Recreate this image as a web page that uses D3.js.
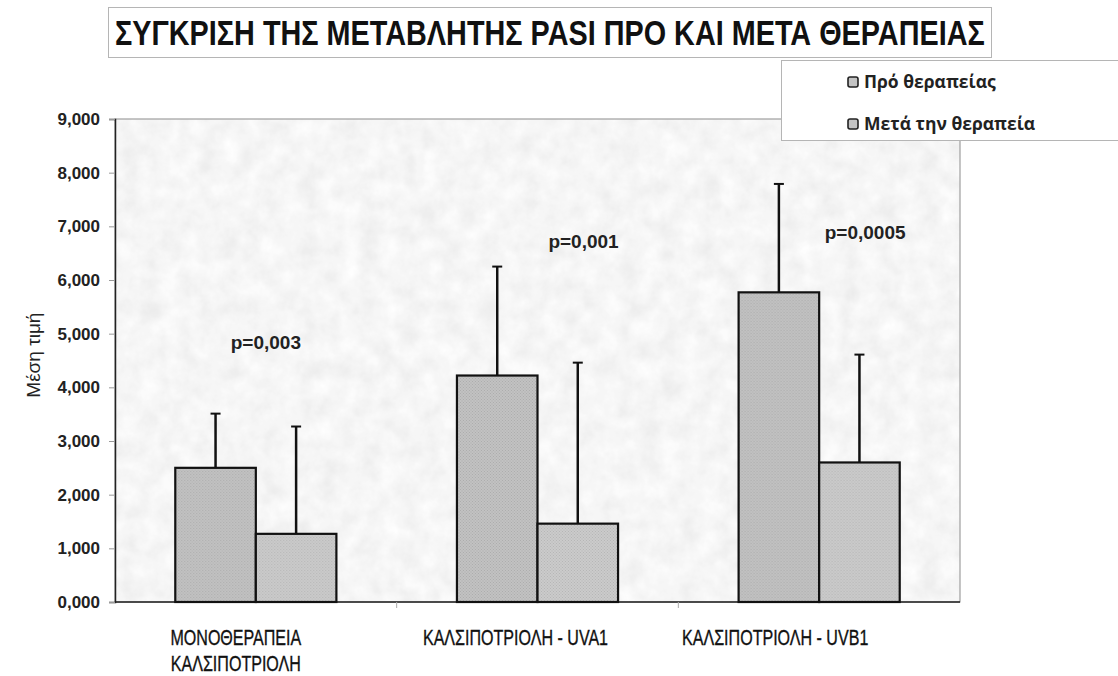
<!DOCTYPE html>
<html>
<head>
<meta charset="utf-8">
<script src="https://cdn.jsdelivr.net/npm/d3@7"></script>
<style>
  body { margin: 0; background: #fff; }
  svg { display: block; }
</style>
</head>
<body>
<div class="chart"></div>
<script>
// size of the page
let svg_width = 1118;
let svg_height = 676;

// data
let categories = ["ΜΟΝΟΘΕΡΑΠΕΙΑ|ΚΑΛΣΙΠΟΤΡΙΟΛΗ", "ΚΑΛΣΙΠΟΤΡΙΟΛΗ - UVA1", "ΚΑΛΣΙΠΟΤΡΙΟΛΗ - UVB1"];
let series = ["Πρό θεραπείας", "Μετά την θεραπεία"];
let pre_values = [2.50, 4.22, 5.77];
let pre_errors = [1.01, 2.03, 2.02];
let post_values = [1.27, 1.46, 2.60];
let post_errors = [2.00, 3.00, 2.01];
let p_labels = ["p=0,003", "p=0,001", "p=0,0005"];
let p_label_y = [4.85, 6.72, 6.89];
let y_ticks = [0, 1, 2, 3, 4, 5, 6, 7, 8, 9];

let title_text = "ΣΥΓΚΡΙΣΗ ΤΗΣ ΜΕΤΑΒΛΗΤΗΣ PASI ΠΡΟ ΚΑΙ ΜΕΤΑ ΘΕΡΑΠΕΙΑΣ";
let y_title = "Μέση τιμή";

// plot frame
let plot = { left: 115, right: 960, top: 119, bottom: 602 };
let fills = ["url(#dots0)", "url(#dots1)"];
let narrow = 0.73;                      // squeeze factor to fake Arial Narrow
let cat_shift = [-20, -22, -44];        // label offsets from group centre

// table for drawing
let rows = categories.map(function (c, i) {
    return {
        cat: c,
        vals: [
            { s: series[0], v: pre_values[i], e: pre_errors[i] },
            { s: series[1], v: post_values[i], e: post_errors[i] }
        ]
    };
});

// scales
let x0 = d3.scaleBand()
    .domain(categories)
    .range([plot.left, plot.right])
    .paddingInner(0.428)
    .paddingOuter(0.214);

let x1 = d3.scaleBand()
    .domain(series)
    .range([0, x0.bandwidth()]);

let y_scale = d3.scaleLinear()
    .domain([0, 9])
    .range([plot.bottom, plot.top]);

let greekFmt = d3.formatLocale({ decimal: ",", thousands: ".", grouping: [3], currency: ["", "€"] }).format(".3f");

let svg = d3.select('.chart')
    .append('svg')
    .attr('width', svg_width)
    .attr('height', svg_height);

// ================================================
// defs: paper texture and dotted bar fills
let defs = svg.append('defs');

let tex = defs.append('filter')
    .attr('id', 'tex')
    .attr('x', 0).attr('y', 0).attr('width', '100%').attr('height', '100%');
tex.append('feTurbulence')
    .attr('type', 'fractalNoise')
    .attr('baseFrequency', 0.05)
    .attr('numOctaves', 4)
    .attr('seed', 7);
tex.append('feColorMatrix').attr('type', 'saturate').attr('values', 0);
let ct = tex.append('feComponentTransfer');
['feFuncR', 'feFuncG', 'feFuncB'].forEach(function (f) {
    ct.append(f).attr('type', 'linear').attr('slope', 0.24).attr('intercept', 0.8);
});
ct.append('feFuncA').attr('type', 'linear').attr('slope', 0).attr('intercept', 1);

function dotPattern(id, base, dark) {
    let p = defs.append('pattern')
        .attr('id', id)
        .attr('width', 3).attr('height', 3)
        .attr('patternUnits', 'userSpaceOnUse');
    p.append('rect').attr('width', 3).attr('height', 3).attr('fill', base);
    p.append('rect').attr('x', 0).attr('y', 0).attr('width', 1).attr('height', 1).attr('fill', dark);
    p.append('rect').attr('x', 1.5).attr('y', 1.5).attr('width', 1).attr('height', 1).attr('fill', dark);
}
dotPattern('dots0', '#c2c2c2', '#acacac');
dotPattern('dots1', '#cbcbcb', '#b5b5b5');

// ================================================
// plot background
svg.append('rect')
    .attr('x', plot.left).attr('y', plot.top)
    .attr('width', plot.right - plot.left)
    .attr('height', plot.bottom - plot.top)
    .attr('filter', 'url(#tex)');

svg.append('rect')
    .attr('x', plot.left).attr('y', plot.top)
    .attr('width', plot.right - plot.left)
    .attr('height', plot.bottom - plot.top)
    .attr('fill', 'none')
    .attr('stroke', '#8c8c8c')
    .attr('stroke-width', 1);

// y axis
let yAxis = svg.append('g')
    .attr('transform', 'translate(' + plot.left + ',0)')
    .call(d3.axisLeft(y_scale).tickValues(y_ticks).tickFormat(greekFmt).tickSize(6).tickPadding(9));
yAxis.select('.domain').attr('stroke', '#222').attr('stroke-width', 1.5);
yAxis.selectAll('.tick line').attr('stroke', '#999');
yAxis.selectAll('.tick text')
    .attr('font-family', 'Liberation Sans, Arial, sans-serif')
    .attr('font-weight', 'bold')
    .attr('font-size', 17)
    .attr('fill', '#222');

svg.append('text')
    .attr('transform', 'translate(40,' + y_scale(4.6) + ') rotate(-90)')
    .attr('text-anchor', 'middle')
    .attr('font-family', 'Liberation Sans, Arial, sans-serif')
    .attr('font-size', 19)
    .attr('fill', '#222')
    .text(y_title);

// x axis
let xAxis = svg.append('g')
    .attr('transform', 'translate(0,' + plot.bottom + ')');
xAxis.append('line')
    .attr('x1', plot.left).attr('x2', plot.right)
    .attr('stroke', '#222').attr('stroke-width', 1.5);
xAxis.selectAll('.sep')
    .data(categories.slice(1))
    .enter()
    .append('line')
    .attr('class', 'sep')
    .attr('x1', function (d) { return x0(d) - x0.step() * x0.paddingInner() / 2; })
    .attr('x2', function (d) { return x0(d) - x0.step() * x0.paddingInner() / 2; })
    .attr('y1', 0).attr('y2', 6)
    .attr('stroke', '#aaa');

// category labels (two lines where needed), squeezed like a narrow font
let catLabels = svg.selectAll('.catlabel')
    .data(categories)
    .enter()
    .append('g')
    .attr('class', 'catlabel')
    .attr('transform', function (d, i) {
        return 'translate(' + (x0(d) + x0.bandwidth() / 2 + cat_shift[i]) + ',' + (plot.bottom + 43) + ') scale(' + narrow + ',1)';
    })
    .append('text')
    .attr('text-anchor', 'middle')
    .attr('font-family', 'Liberation Sans, Arial, sans-serif')
    .attr('font-size', 22)
    .attr('stroke', '#111')
    .attr('stroke-width', 0.35)
    .attr('fill', '#111');
catLabels.selectAll('tspan')
    .data(function (d) { return d.split('|'); })
    .enter()
    .append('tspan')
    .attr('x', 0)
    .attr('dy', function (t, j) { return j === 0 ? 0 : 26; })
    .text(function (t) { return t; });

// bars
let groups = svg.selectAll('.grp')
    .data(rows)
    .enter()
    .append('g')
    .attr('class', 'grp')
    .attr('transform', function (d) { return 'translate(' + x0(d.cat) + ',0)'; });

// error bars (upper only)
groups.selectAll('.err')
    .data(function (d) { return d.vals; })
    .enter()
    .append('line')
    .attr('class', 'err')
    .attr('x1', function (d) { return x1(d.s) + x1.bandwidth() / 2; })
    .attr('x2', function (d) { return x1(d.s) + x1.bandwidth() / 2; })
    .attr('y1', function (d) { return y_scale(d.v); })
    .attr('y2', function (d) { return y_scale(d.v + d.e); })
    .attr('stroke', '#111')
    .attr('stroke-width', 2.5);

groups.selectAll('.cap')
    .data(function (d) { return d.vals; })
    .enter()
    .append('line')
    .attr('class', 'cap')
    .attr('x1', function (d) { return x1(d.s) + x1.bandwidth() / 2 - 5; })
    .attr('x2', function (d) { return x1(d.s) + x1.bandwidth() / 2 + 5; })
    .attr('y1', function (d) { return y_scale(d.v + d.e); })
    .attr('y2', function (d) { return y_scale(d.v + d.e); })
    .attr('stroke', '#111')
    .attr('stroke-width', 2);

groups.selectAll('rect')
    .data(function (d) { return d.vals; })
    .enter()
    .append('rect')
    .attr('x', function (d) { return x1(d.s); })
    .attr('y', function (d) { return y_scale(d.v); })
    .attr('width', x1.bandwidth())
    .attr('height', function (d) { return plot.bottom - y_scale(d.v); })
    .attr('fill', function (d, i) { return fills[i]; })
    .attr('stroke', '#111')
    .attr('stroke-width', 2.2);

// p-value labels
svg.selectAll('.plabel')
    .data(p_labels)
    .enter()
    .append('text')
    .attr('class', 'plabel')
    .attr('text-anchor', 'middle')
    .attr('font-family', 'Liberation Sans, Arial, sans-serif')
    .attr('font-weight', 'bold')
    .attr('font-size', 19)
    .attr('fill', '#222')
    .attr('x', function (d, i) { return x0(categories[i]) + x0.bandwidth() / 2 + (i === 0 ? 10 : 46); })
    .attr('y', function (d, i) { return y_scale(p_label_y[i]) + 7; })
    .text(function (d) { return d; });

// title in a box
svg.append('rect')
    .attr('x', 108.5).attr('y', 7.5)
    .attr('width', 883).attr('height', 50)
    .attr('fill', '#fff')
    .attr('stroke', '#b5b5b5');
let titleG = svg.append('g');
let titleT = titleG.append('text')
    .attr('x', 0).attr('y', 0)
    .attr('font-family', 'Liberation Sans, Arial, sans-serif')
    .attr('font-weight', 'bold')
    .attr('font-size', 35)
    .attr('fill', '#111')
    .text(title_text);
let title_w = titleT.node().getComputedTextLength();
titleG.attr('transform', 'translate(115,45) scale(' + (870 / title_w) + ',1)');

// legend
svg.append('rect')
    .attr('x', 781.5).attr('y', 60.5)
    .attr('width', 345).attr('height', 80)
    .attr('fill', '#fff')
    .attr('stroke', '#b5b5b5');

let legend = svg.selectAll('.leg')
    .data(series)
    .enter()
    .append('g')
    .attr('class', 'leg')
    .attr('transform', function (d, i) { return 'translate(848,' + (82 + i * 42) + ')'; });
legend.append('rect')
    .attr('x', 0).attr('y', -5)
    .attr('width', 10).attr('height', 10)
    .attr('rx', 2)
    .attr('fill', '#c4c4c4')
    .attr('stroke', '#222')
    .attr('stroke-width', 1.6);
legend.append('text')
    .attr('x', 16).attr('y', 6)
    .attr('font-family', 'Open Sans, sans-serif')
    .attr('font-weight', 'bold')
    .attr('font-size', 17.5)
    .attr('fill', '#222')
    .text(function (d) { return d; });
</script>
</body>
</html>
